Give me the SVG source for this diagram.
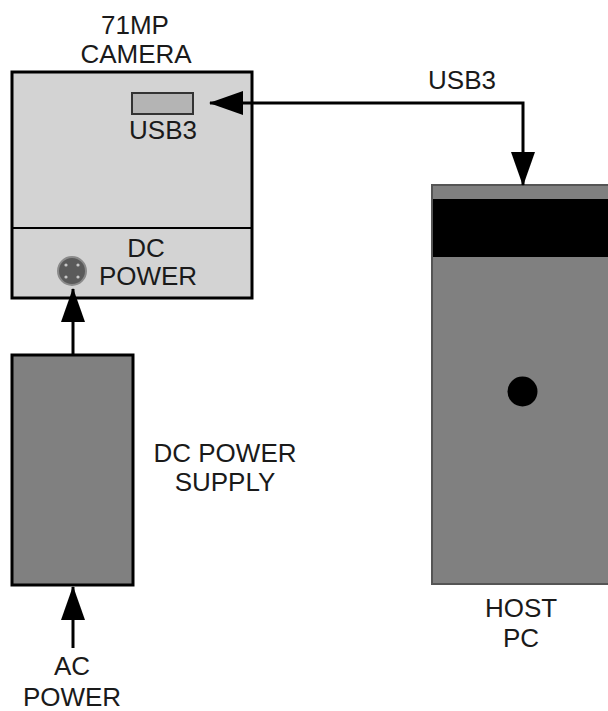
<svg xmlns="http://www.w3.org/2000/svg" width="608" height="711" viewBox="0 0 608 711">
<style>
text{font-family:"Liberation Sans",Arial,sans-serif;font-size:26px;fill:#1a1a1a;text-anchor:middle}
.box{stroke:#000;stroke-width:3}
.conn{fill:none;stroke:#000;stroke-width:3}
</style>
<defs>
<marker id="ah" viewBox="0 0 34 24" refX="33" refY="12" markerWidth="34" markerHeight="24" markerUnits="userSpaceOnUse" orient="auto-start-reverse">
<path d="M0,0 L34,12 L0,24 z" fill="#000"/>
</marker>
</defs>
<rect width="608" height="711" fill="#fff"/>
<g id="camera">
<rect class="box" x="12" y="72" width="240" height="226" fill="#d3d3d3"/>
<line x1="12" y1="228" x2="252" y2="228" stroke="#000" stroke-width="2"/>
<rect x="132" y="93" width="61" height="21" fill="#b4b4b4" stroke="#333" stroke-width="2"/>
<text x="135" y="34">71MP</text>
<text x="136" y="63">CAMERA</text>
<text x="163" y="139">USB3</text>
<text x="146" y="257">DC</text>
<text x="148" y="285">POWER</text>
<circle cx="72" cy="271" r="14" fill="#5a5a5a" stroke="#8a8a8a" stroke-width="2"/>
<g fill="#c8c8c8">
<circle cx="66" cy="265" r="1.6"/><circle cx="78" cy="265" r="1.6"/>
<circle cx="66" cy="277" r="1.6"/><circle cx="78" cy="277" r="1.6"/>
</g>
</g>
<g id="power-supply">
<rect class="box" x="12" y="355" width="121" height="230" fill="#808080"/>
<text x="225" y="462">DC POWER</text>
<text x="225" y="491">SUPPLY</text>
</g>
<g id="ac-power">
<text x="72" y="675">AC</text>
<text x="72" y="706">POWER</text>
</g>
<g id="host-pc">
<rect x="432" y="185" width="200" height="399" fill="#808080" stroke="#555" stroke-width="2"/>
<rect x="433" y="199" width="180" height="58" fill="#000"/>
<circle cx="522.5" cy="391.5" r="15" fill="#000"/>
<text x="521" y="617">HOST</text>
<text x="521" y="647">PC</text>
</g>
<g id="connectors">
<path class="conn" d="M523 185 V103 H210" marker-start="url(#ah)" marker-end="url(#ah)"/>
<text x="462" y="89">USB3</text>
<path class="conn" d="M73 355 V289" marker-end="url(#ah)"/>
<path class="conn" d="M73 648 V587" marker-end="url(#ah)"/>
</g>
</svg>
